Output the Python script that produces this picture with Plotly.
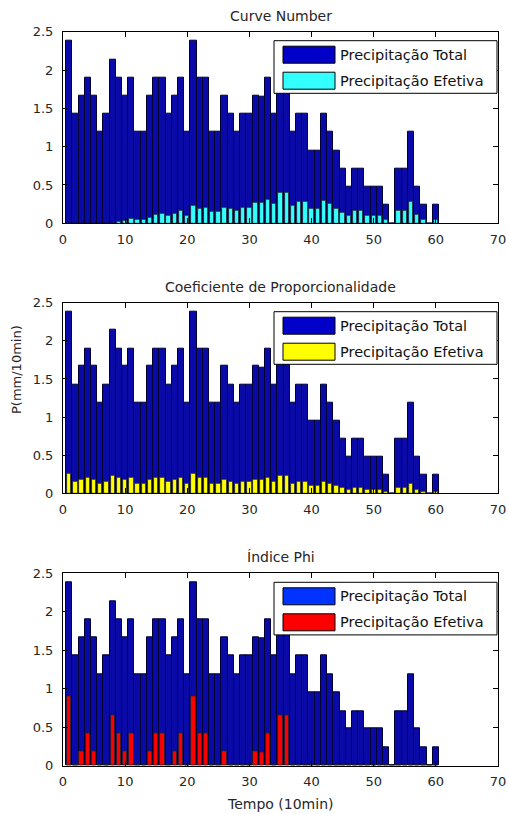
import plotly.graph_objects as go

# Time steps (10 min intervals)
tempo = list(range(1, 61))

# Total rainfall per interval (mm/10min)
prec_total = [
    2.38, 1.43, 1.67, 1.90, 1.67, 1.19, 1.43, 2.14, 1.90, 1.67,
    1.90, 1.19, 1.19, 1.67, 1.90, 1.90, 1.43, 1.67, 1.90, 1.19,
    2.38, 1.90, 1.90, 1.19, 1.19, 1.67, 1.43, 1.19, 1.43, 1.43,
    1.67, 1.65, 1.90, 1.43, 2.14, 2.14, 1.19, 1.43, 1.43, 0.95,
    0.95, 1.43, 1.19, 0.95, 0.71, 0.48, 0.71, 0.71, 0.48, 0.48,
    0.48, 0.24, 0.00, 0.71, 0.71, 1.19, 0.48, 0.24, 0.00, 0.24,
]

# Effective rainfall - Curve Number method
efetiva_cn = [
    0.00, 0.00, 0.00, 0.00, 0.00, 0.00, 0.00, 0.00, 0.02, 0.03,
    0.06, 0.045, 0.045, 0.075, 0.11, 0.125, 0.095, 0.13, 0.16, 0.10,
    0.23, 0.195, 0.21, 0.148, 0.148, 0.21, 0.195, 0.165, 0.21, 0.21,
    0.265, 0.265, 0.31, 0.25, 0.40, 0.40, 0.23, 0.28, 0.28, 0.195,
    0.195, 0.29, 0.25, 0.195, 0.143, 0.095, 0.16, 0.16, 0.095, 0.095,
    0.095, 0.045, 0.00, 0.16, 0.16, 0.28, 0.11, 0.045, 0.00, 0.045,
]

# Effective rainfall - proportionality coefficient
efetiva_coef = [
    0.26, 0.157, 0.184, 0.21, 0.184, 0.131, 0.157, 0.235, 0.21, 0.184,
    0.21, 0.131, 0.131, 0.184, 0.21, 0.21, 0.157, 0.184, 0.21, 0.131,
    0.26, 0.21, 0.21, 0.131, 0.131, 0.184, 0.157, 0.131, 0.157, 0.157,
    0.184, 0.18, 0.21, 0.157, 0.235, 0.235, 0.131, 0.157, 0.157, 0.105,
    0.105, 0.157, 0.131, 0.105, 0.078, 0.053, 0.078, 0.078, 0.053, 0.053,
    0.053, 0.026, 0.00, 0.078, 0.078, 0.131, 0.053, 0.026, 0.00, 0.026,
]

# Effective rainfall - Phi index
efetiva_phi = [
    0.90, 0.00, 0.19, 0.42, 0.19, 0.00, 0.00, 0.66, 0.42, 0.19,
    0.42, 0.00, 0.00, 0.19, 0.42, 0.42, 0.00, 0.19, 0.42, 0.00,
    0.90, 0.42, 0.42, 0.00, 0.00, 0.19, 0.00, 0.00, 0.00, 0.00,
    0.19, 0.17, 0.42, 0.00, 0.66, 0.66, 0.00, 0.00, 0.00, 0.00,
    0.00, 0.00, 0.00, 0.00, 0.00, 0.00, 0.00, 0.00, 0.00, 0.00,
    0.00, 0.00, 0.00, 0.00, 0.00, 0.00, 0.00, 0.00, 0.00, 0.00,
]

titulos = ["Curve Number", "Coeficiente de Proporcionalidade", "Índice Phi"]
series_efetiva = [efetiva_cn, efetiva_coef, efetiva_phi]
cores_efetiva = ["#33FFFF", "#FFFF00", "#FF0000"]
cores_total_legenda = ["#0000C8", "#0000C8", "#0033FF"]
nomes = ["Precipitação Total", "Precipitação Efetiva"]

x_ticks = [0, 10, 20, 30, 40, 50, 60, 70]
y_ticks = [0, 0.5, 1, 1.5, 2, 2.5]
y_tick_text = ["0", "0.5", "1", "1.5", "2", "2.5"]

W, H = 508, 814
FONT = "DejaVu Sans"
TXT = "#262626"

# Axes frames in pixels: left, right, and (top, bottom) per panel
AX_L, AX_R = 63, 498
PANELS = [(31.7, 223.3), (302.7, 493.3), (573.3, 765.7)]


def px(x):
    return x / W


def py(y):
    return 1 - y / H


fig = go.Figure()
shapes = []
annotations = []

for k in range(3):
    ax = "" if k == 0 else str(k + 1)
    xa, ya = "x" + ax, "y" + ax
    fig.add_trace(go.Bar(
        x=tempo, y=prec_total, width=1.0, xaxis=xa, yaxis=ya,
        marker=dict(color="#0A0AA8", line=dict(color="#000030", width=1)),
        name=nomes[0], showlegend=False,
    ))
    fig.add_trace(go.Bar(
        x=tempo, y=series_efetiva[k], width=0.7, xaxis=xa, yaxis=ya,
        marker=dict(color=cores_efetiva[k], line=dict(color="#222222", width=0.8)),
        name=nomes[1], showlegend=False,
    ))

    top, bot = PANELS[k]
    axis_common = dict(
        showline=True, linecolor="black", linewidth=1, mirror="allticks",
        ticks="inside", ticklen=5, tickcolor="black", showgrid=False,
        zeroline=False, automargin=False,
        tickfont=dict(family=FONT, size=13, color=TXT),
    )
    fig.layout["xaxis" + ax] = dict(
        domain=[px(AX_L), px(AX_R)], range=[0, 70], tickvals=x_ticks,
        anchor=ya, ticklabelstandoff=4, **axis_common,
    )
    fig.layout["yaxis" + ax] = dict(
        domain=[py(bot), py(top)], range=[0, 2.5], tickvals=y_ticks,
        ticktext=y_tick_text, anchor=xa, ticklabelstandoff=6, **axis_common,
    )

    # Panel title
    annotations.append(dict(
        x=px((AX_L + AX_R) / 2), y=py(top - 16), xref="paper", yref="paper",
        text=titulos[k], showarrow=False, xanchor="center", yanchor="middle",
        font=dict(family=FONT, size=14, color=TXT),
    ))

    # Legend box with colour patches
    lt = top + 9
    shapes.append(dict(
        type="rect", xref="paper", yref="paper",
        x0=px(274), x1=px(497), y0=py(lt), y1=py(lt + 52.6),
        line=dict(color="black", width=1), fillcolor="white", layer="above",
    ))
    for j, cor in enumerate([cores_total_legenda[k], cores_efetiva[k]]):
        r0 = lt + 5.5 + j * 26
        shapes.append(dict(
            type="rect", xref="paper", yref="paper",
            x0=px(283), x1=px(335), y0=py(r0), y1=py(r0 + 17),
            line=dict(color="black", width=1), fillcolor=cor, layer="above",
        ))
        annotations.append(dict(
            x=px(338), y=py(r0 + 8.5), xref="paper", yref="paper",
            text=nomes[j], showarrow=False, xanchor="left", yanchor="middle",
            font=dict(family=FONT, size=14.5, color="#111"),
        ))

annotations.append(dict(
    x=px(16), y=py(370), xref="paper", yref="paper", text="P(mm/10min)",
    showarrow=False, textangle=-90, xanchor="center", yanchor="middle",
    font=dict(family=FONT, size=13, color=TXT),
))
annotations.append(dict(
    x=px(280), y=py(804), xref="paper", yref="paper", text="Tempo (10min)",
    showarrow=False, xanchor="center", yanchor="middle",
    font=dict(family=FONT, size=14, color=TXT),
))

fig.update_layout(
    width=W, height=H, autosize=False,
    margin=dict(l=0, r=0, t=0, b=0, pad=0, autoexpand=False),
    paper_bgcolor="white", plot_bgcolor="white",
    barmode="overlay", bargap=0,
    shapes=shapes, annotations=annotations, showlegend=False,
)

fig.write_html("out.html")
